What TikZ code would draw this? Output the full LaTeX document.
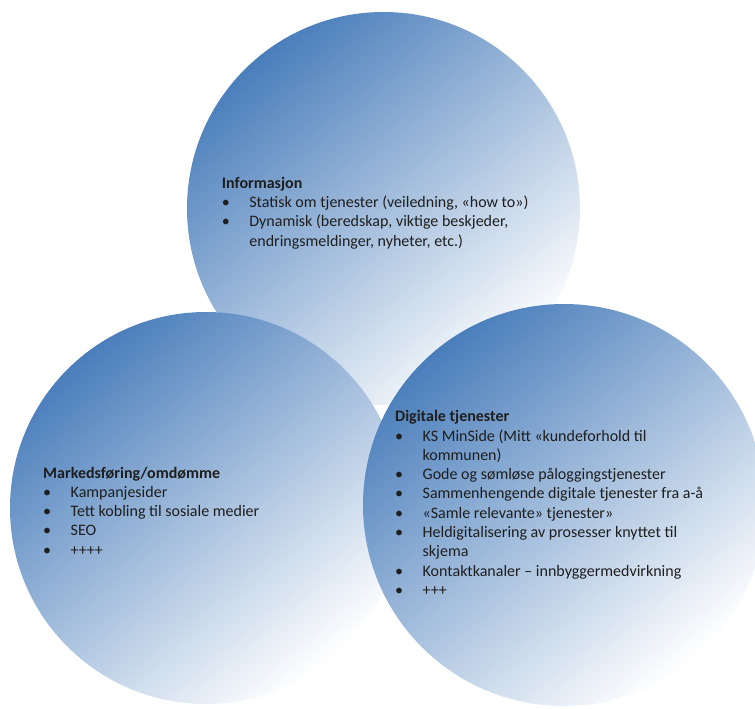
\documentclass[tikz,border=0pt]{standalone}
\usepackage{fontspec}
\setmainfont{Carlito}
\usepackage{xcolor}

\definecolor{ballblue}{RGB}{74,126,187}
\definecolor{listgray}{RGB}{30,30,30}
\newcommand{\bul}{\textbullet}

\tikzset{
    ball/.style={circle, inner sep=0pt, shade, top color=ballblue, bottom color=white, shading angle=40},
    listtext/.style={anchor=base west, inner sep=0pt, text=listgray, font=\fontsize{16}{19.3}\selectfont}
}

\begin{document}
\begin{tikzpicture}[x=1pt, y=-1pt]
        \useasboundingbox (0,0) rectangle (755,709);
        % the three circles, top one first
        \foreach \n/\x/\y/\d in {info/383.5/208.5/393, mark/206/508/392, digi/564/505/402}
        {
            \node[ball, minimum size=\d pt] (\n) at (\x,\y) {};
        }
        \node[listtext] (infotext) at (221.7,188.3) {%
            \begin{tabular}[t]{@{}p{27.5pt}@{}l@{}}
                \multicolumn{2}{@{}l@{}}{\textbf{Informasjon}}\\
                \bul & Statisk om tjenester (veiledning, «how to»)\\
                \bul & Dynamisk (beredskap, viktige beskjeder,\\
                     & endringsmeldinger, nyheter, etc.)
            \end{tabular}};
        \node[listtext] (marktext) at (43,478) {%
            \begin{tabular}[t]{@{}p{27.5pt}@{}l@{}}
                \multicolumn{2}{@{}l@{}}{\textbf{Markedsføring/omdømme}}\\
                \bul & Kampanjesider\\
                \bul & Tett kobling til sosiale medier\\
                \bul & SEO\\
                \bul & ++++
            \end{tabular}};
        \node[listtext] (digitext) at (395,421.7) {%
            \begin{tabular}[t]{@{}p{27.5pt}@{}l@{}}
                \multicolumn{2}{@{}l@{}}{\textbf{Digitale tjenester}}\\
                \bul & KS MinSide (Mitt «kundeforhold til\\
                     & kommunen)\\
                \bul & Gode og sømløse påloggingstjenester\\
                \bul & Sammenhengende digitale tjenester fra a-å\\
                \bul & «Samle relevante» tjenester»\\
                \bul & Heldigitalisering av prosesser knyttet til\\
                     & skjema\\
                \bul & Kontaktkanaler -- innbyggermedvirkning\\
                \bul & +++
            \end{tabular}};
    \end{tikzpicture}
\end{document}
